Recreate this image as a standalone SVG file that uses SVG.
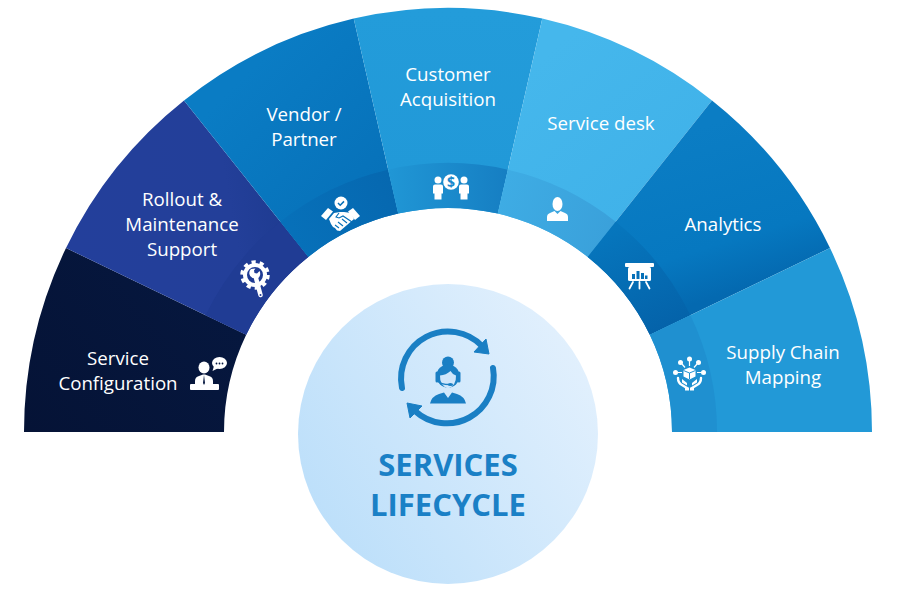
<svg xmlns="http://www.w3.org/2000/svg" width="900" height="589" viewBox="0 0 900 589">
<style>
.l{font-family:"Open Sans","Liberation Sans",sans-serif;font-size:18.700px;fill:#fff;text-anchor:middle}
.t{font-family:"Open Sans","Liberation Sans",sans-serif;font-size:31px;font-weight:700;fill:#1a80c6;text-anchor:middle}
.w{fill:#fff;stroke:none}
.wl{fill:none;stroke:#fff;stroke-linecap:round}
</style>
<defs>
<linearGradient id="g1" gradientUnits="userSpaceOnUse" x1="24" y1="432" x2="246" y2="250"><stop offset="0" stop-color="#051336"/><stop offset="1" stop-color="#061840"/></linearGradient>
<linearGradient id="g2" gradientUnits="userSpaceOnUse" x1="70" y1="240" x2="300" y2="200"><stop offset="0" stop-color="#233f9b"/><stop offset=".7" stop-color="#233f99"/><stop offset="1" stop-color="#1d3a8f"/></linearGradient>
<linearGradient id="g3" gradientUnits="userSpaceOnUse" x1="230" y1="90" x2="370" y2="230"><stop offset="0" stop-color="#0a7cc4"/><stop offset="1" stop-color="#0670b8"/></linearGradient>
<linearGradient id="g3b" gradientUnits="userSpaceOnUse" x1="270" y1="240" x2="395" y2="190"><stop offset="0" stop-color="#0772bb"/><stop offset="1" stop-color="#0668b0"/></linearGradient>
<linearGradient id="g4" gradientUnits="userSpaceOnUse" x1="448" y1="10" x2="448" y2="170"><stop offset="0" stop-color="#239cda"/><stop offset="1" stop-color="#2199d8"/></linearGradient>
<linearGradient id="g4b" gradientUnits="userSpaceOnUse" x1="390" y1="190" x2="505" y2="190"><stop offset="0" stop-color="#2096d5"/><stop offset="1" stop-color="#167fc3"/></linearGradient>
<linearGradient id="g5" gradientUnits="userSpaceOnUse" x1="540" y1="60" x2="660" y2="200"><stop offset="0" stop-color="#45b7ec"/><stop offset="1" stop-color="#40b2e9"/></linearGradient>
<linearGradient id="g5b" gradientUnits="userSpaceOnUse" x1="500" y1="200" x2="615" y2="240"><stop offset="0" stop-color="#3eace4"/><stop offset="1" stop-color="#3aa0da"/></linearGradient>
<linearGradient id="g6" gradientUnits="userSpaceOnUse" x1="690" y1="130" x2="740" y2="290"><stop offset="0" stop-color="#0b7dc4"/><stop offset=".7" stop-color="#0678c0"/><stop offset="1" stop-color="#0469b0"/></linearGradient>
<linearGradient id="g6b" gradientUnits="userSpaceOnUse" x1="610" y1="230" x2="660" y2="340"><stop offset="0" stop-color="#0676bd"/><stop offset="1" stop-color="#0461a8"/></linearGradient>
<linearGradient id="gc" gradientUnits="userSpaceOnUse" x1="320" y1="530" x2="590" y2="360"><stop offset="0" stop-color="#bcdffa"/><stop offset="1" stop-color="#e2f0fd"/></linearGradient>
</defs>

<g id="connectors"></g>

<g id="node-service-configuration">
<path fill="url(#g1)" d="M24 432A424 424 0 0 1 66 248L246.200 334.800A224 224 0 0 0 224 432Z"/>
<text class="l"><tspan x="118" y="365">Service</tspan><tspan x="118" y="390">Configuration</tspan></text>
<g class="w">
<ellipse cx="204" cy="367.500" rx="5.500" ry="6"/>
<path d="M195 386v-5q0-4 4-5l4-1.500h2l4 1.500q4 1 4 5v5z"/>
<rect x="190" y="384" width="29" height="6" rx="1"/>
<ellipse cx="219.500" cy="363" rx="7.500" ry="6"/>
<path d="M214 366l-1.500 5 6-3z"/>
</g>
<path d="M204 375l-1 8 1 2 1-2z" fill="#061840"/>
<g fill="#061840"><circle cx="216.500" cy="363.500" r=".9"/><circle cx="219.500" cy="363.500" r=".9"/><circle cx="222.500" cy="363.500" r=".9"/></g>
</g>

<g id="node-rollout">
<path fill="url(#g2)" d="M66 248A424 424 0 0 1 184 100.500L308.300 256.900A224 224 0 0 0 246.200 334.800Z"/>
<path fill="#203c94" d="M205.600 315.300A269 269 0 0 1 280.300 221.700L308.300 256.900A224 224 0 0 0 246.200 334.800Z"/>
<text class="l"><tspan x="182" y="206">Rollout &amp;</tspan><tspan x="182" y="231">Maintenance</tspan><tspan x="182" y="256">Support</tspan></text>
<circle cx="255" cy="275" r="10" fill="none" stroke="#fff" stroke-width="4"/>
<circle cx="255" cy="275" r="13" fill="none" stroke="#fff" stroke-width="3.500" stroke-dasharray="4.200 4"/>
<path d="M256 278L260.500 295" stroke="#fff" stroke-width="4.500" stroke-linecap="round"/>
<path d="M251 269a5.500 5.500 0 0 0 1.500 9l5 .5a5.500 5.500 0 0 0 2-7.500l-2.500 2.500-2.500-.5-.5-2.500 1.500-2z" fill="#fff"/>
<circle cx="260.500" cy="295" r="1" fill="#203c94"/>
</g>

<g id="node-vendor-partner">
<path fill="url(#g3)" d="M184 100.500A424 424 0 0 1 353.700 18.600L398.200 213.600A224 224 0 0 0 308.300 256.900Z"/>
<path fill="url(#g3b)" d="M280.300 221.700A269 269 0 0 1 388.100 169.700L398.200 213.600A224 224 0 0 0 308.300 256.900Z"/>
<text class="l"><tspan x="304" y="121">Vendor /</tspan><tspan x="304" y="146">Partner</tspan></text>
<circle class="w" cx="341" cy="203" r="6.500"/>
<path d="M338 203l2.200 2.200 3.800-3.800" fill="none" stroke="#0670b8" stroke-width="1.500"/>
<g class="w">
<path d="M321 216l7-8 5 3.500-7 8.500z"/>
<path d="M360 216l-7-8-5 3.500 7 8.500z"/>
<path d="M329 219l5-6 6-1 4 0 7 1 3 6-14 12-3-.5-2-2.500-2-1-2-3z"/>
</g>
<path d="M339 213l-3 4 3 1 4-2 9 6M335 225l4 3M338 222l5 4M342 219l5 4" fill="none" stroke="#0670b8" stroke-width="1.100"/>
</g>

<g id="node-customer-acquisition">
<path fill="url(#g4)" d="M353.700 18.600A424 424 0 0 1 542.300 18.600L497.800 213.600A224 224 0 0 0 398.200 213.600Z"/>
<path fill="url(#g4b)" d="M388.100 169.700A269 269 0 0 1 507.900 169.700L497.800 213.600A224 224 0 0 0 398.200 213.600Z"/>
<text class="l"><tspan x="448" y="81">Customer</tspan><tspan x="448" y="106">Acquisition</tspan></text>
<g class="w">
<circle cx="451" cy="182" r="7.800"/>
<circle cx="438" cy="180" r="3.500"/>
<circle cx="464" cy="180" r="3.500"/>
<path d="M435 184.500h6q2 0 2 2v7h-1.500v6h-7v-6h-1.500v-7q0-2 2-2z"/>
<path d="M461 184.500h6q2 0 2 2v7h-1.500v6h-7v-6h-1.500v-7q0-2 2-2z"/>
</g>
<text x="451" y="187" font-family="Open Sans, sans-serif" font-size="14" font-weight="700" fill="#1a88cb" text-anchor="middle">$</text>
</g>

<g id="node-service-desk">
<path fill="url(#g5)" d="M542.300 18.600A424 424 0 0 1 712 100.500L587.700 256.900A224 224 0 0 0 497.800 213.600Z"/>
<path fill="url(#g5b)" d="M507.900 169.700A269 269 0 0 1 615.700 221.700L587.700 256.900A224 224 0 0 0 497.800 213.600Z"/>
<text class="l" x="601" y="130">Service desk</text>
<g class="w">
<ellipse cx="557.500" cy="204" rx="5" ry="7"/>
<path d="M547 221v-4q0-3 3-4l4.500-2 3 3 3-3 4.500 2q3 1 3 4v4z"/>
</g>
</g>

<g id="node-analytics">
<path fill="url(#g6)" d="M712 100.500A424 424 0 0 1 830 248L649.800 334.800A224 224 0 0 0 587.700 256.900Z"/>
<path fill="url(#g6b)" d="M615.700 221.700A269 269 0 0 1 690.400 315.300L649.800 334.800A224 224 0 0 0 587.700 256.900Z"/>
<text class="l" x="723" y="231">Analytics</text>
<g class="w">
<rect x="625" y="263" width="29" height="4" rx="1"/>
<rect x="628" y="267" width="23" height="14" rx="1.500"/>
</g>
<g fill="#0670b8"><rect x="632" y="274" width="3" height="5"/><rect x="636.500" y="271" width="3" height="8"/><rect x="641" y="273" width="3" height="6"/><rect x="645" y="275.500" width="2.500" height="3.500"/></g>
<path class="wl" stroke-width="1.800" d="M633 282l-3.500 6.500M639.500 282v6.500M646 282l3.500 6.500"/>
</g>

<g id="node-supply-chain-mapping">
<path fill="#2299d7" d="M830 248A424 424 0 0 1 872 432H672A224 224 0 0 0 649.800 334.800Z"/>
<path fill="#1f90d0" d="M690.400 315.300A269 269 0 0 1 717 432H672A224 224 0 0 0 649.800 334.800Z"/>
<text class="l"><tspan x="783" y="359">Supply Chain</tspan><tspan x="783" y="384">Mapping</tspan></text>
<g class="w">
<circle cx="689.500" cy="359" r="2.500"/><circle cx="680.500" cy="362.500" r="2.500"/><circle cx="698.500" cy="362.500" r="2.500"/><circle cx="675.500" cy="372.500" r="2.500"/><circle cx="703.500" cy="372.500" r="2.500"/>
<path d="M689.500 367.500l-6 2.500v6.500l6 3 6-3v-6.500z"/>
</g>
<path d="M689.500 361v5M682 364l3 3.500M697 364l-3 3.500M678 372.500h4M701 372.500h-4" stroke="#fff" stroke-width="1.200" fill="none"/>
<path d="M683.500 370.500l6 2.500 6-2.500M689.500 373v6" stroke="#1f90d0" stroke-width="1" fill="none"/>
<path class="wl" stroke-width="2.400" d="M678 378q0 5 4 7l5 3M701 378q0 5-4 7l-5 3"/>
<path class="w" d="M682 379l5 4v2.500l-5-3zM697 379l-5 4v2.500l5-3z"/>
<rect class="w" x="685" y="387.500" width="4" height="3"/><rect class="w" x="690" y="387.500" width="4" height="3"/>
</g>

<g id="node-services-lifecycle">
<circle cx="448" cy="434" r="150" fill="url(#gc)"/>
<path d="M402 388A47 47 0 0 1 482 346" fill="none" stroke="#1a7fc4" stroke-width="6" stroke-linecap="round"/>
<path d="M486 339L489 354L474 352Z" fill="#1a7fc4" stroke="#1a7fc4" stroke-linejoin="round"/>
<path d="M493 368A47 47 0 0 1 415 411" fill="none" stroke="#1a7fc4" stroke-width="6" stroke-linecap="round"/>
<path d="M407 403L422 406L410 418Z" fill="#1a7fc4" stroke="#1a7fc4" stroke-linejoin="round"/>
<g fill="#1a7fc4">
<circle cx="448" cy="362.500" r="6"/>
<circle cx="448" cy="376" r="11.500"/>
<path d="M430 403.500q1.500-7 9-9.500l5-1.500 4 5.500 4-5.500 5 1.500q7.500 2.500 9 9.500z"/>
</g>
<path d="M440 375.500q6-.5 10.500-4.500 2 3.500 5.500 4.500 .5 10-8 13-8.500-3-8-13z" fill="#cfe6fb"/>
<path d="M437 373v8M459 373v8" fill="none" stroke="#1a7fc4" stroke-width="3" stroke-linecap="round"/>
<path d="M438 381q2 3.500 12 3.500" fill="none" stroke="#1a7fc4" stroke-width="1.500"/>
<ellipse cx="450.500" cy="384.500" rx="2.600" ry="1.500" fill="#1a7fc4"/>
<text class="t" x="448" y="475.500">SERVICES</text>
<text class="t" x="448" y="516">LIFECYCLE</text>
</g>
</svg>
